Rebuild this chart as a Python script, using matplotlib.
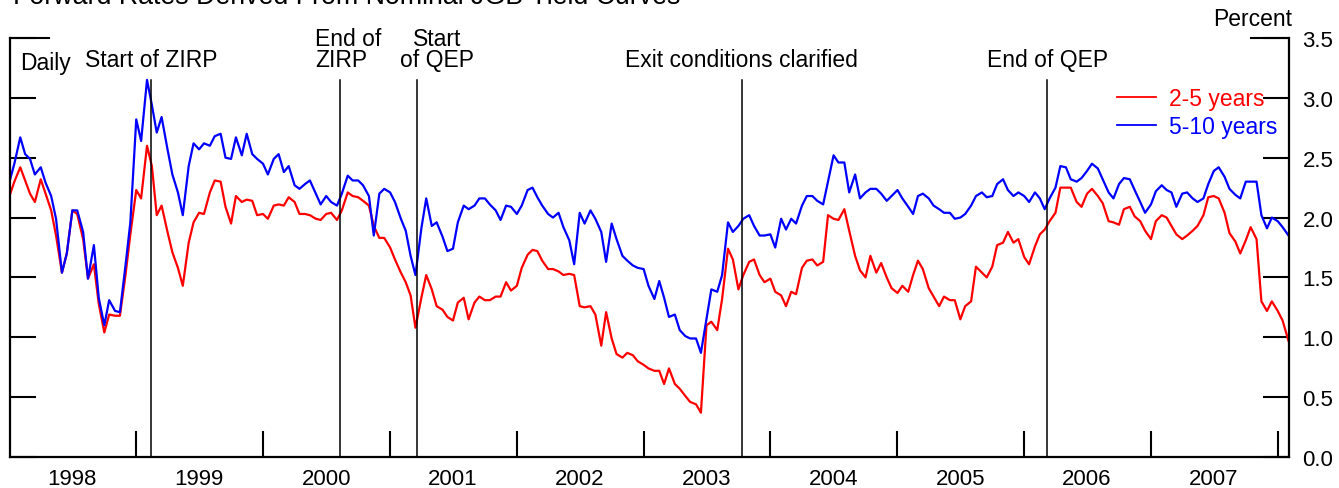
import matplotlib
matplotlib.use('Agg')
import matplotlib.pyplot as plt
import matplotlib.transforms as mtransforms
import pandas as pd
import numpy as np

plt.rcParams['font.family'] = ['Liberation Sans', 'DejaVu Sans']

# ---------------- data (semi-monthly readings, Jan 1998 - Feb 2008) ----------------
dates = pd.date_range('1998-01-01', periods=243, freq='SMS')

fwd_2_5 = [
    2.18, 2.30, 2.42, 2.31, 2.20, 2.13, 2.32, 2.20, 2.06, 1.85, 1.54, 1.70,
    2.06, 2.03, 1.82, 1.49, 1.61, 1.28, 1.04, 1.19, 1.18, 1.18, 1.52, 1.86,
    2.23, 2.16, 2.60, 2.43, 2.02, 2.10, 1.88, 1.71, 1.58, 1.43, 1.79, 1.96,
    2.04, 2.03, 2.21, 2.31, 2.30, 2.09, 1.95, 2.18, 2.13, 2.15, 2.14, 2.02,
    2.03, 1.99, 2.10, 2.11, 2.10, 2.17, 2.13, 2.03, 2.03, 2.02, 1.99, 1.98,
    2.03, 2.04, 1.98, 2.06, 2.21, 2.18, 2.17, 2.14, 2.10, 1.93, 1.83, 1.83,
    1.75, 1.65, 1.54, 1.46, 1.35, 1.08, 1.33, 1.52, 1.40, 1.26, 1.23, 1.17,
    1.14, 1.29, 1.33, 1.15, 1.29, 1.34, 1.31, 1.31, 1.34, 1.34, 1.46, 1.39,
    1.43, 1.58, 1.69, 1.73, 1.72, 1.64, 1.57, 1.57, 1.55, 1.52, 1.53, 1.52,
    1.26, 1.25, 1.26, 1.19, 0.93, 1.21, 0.99, 0.86, 0.83, 0.87, 0.85, 0.80,
    0.77, 0.74, 0.72, 0.72, 0.61, 0.74, 0.61, 0.57, 0.51, 0.46, 0.44, 0.37,
    1.10, 1.13, 1.06, 1.32, 1.74, 1.65, 1.40, 1.52, 1.63, 1.65, 1.52, 1.46,
    1.49, 1.38, 1.35, 1.26, 1.38, 1.36, 1.58, 1.64, 1.65, 1.60, 1.63, 2.02,
    1.99, 1.98, 2.07, 1.89, 1.68, 1.56, 1.50, 1.68, 1.54, 1.62, 1.50, 1.41,
    1.37, 1.43, 1.38, 1.52, 1.64, 1.57, 1.41, 1.34, 1.26, 1.34, 1.31, 1.31,
    1.15, 1.26, 1.30, 1.59, 1.54, 1.50, 1.59, 1.77, 1.79, 1.88, 1.79, 1.82,
    1.67, 1.61, 1.76, 1.86, 1.90, 1.97, 2.04, 2.25, 2.25, 2.25, 2.13, 2.09,
    2.20, 2.24, 2.18, 2.12, 1.97, 1.96, 1.94, 2.07, 2.09, 2.01, 1.97, 1.89,
    1.82, 1.97, 2.02, 2.00, 1.93, 1.86, 1.82, 1.85, 1.89, 1.93, 2.02, 2.17,
    2.18, 2.16, 2.04, 1.87, 1.80, 1.70, 1.81, 1.92, 1.82, 1.30, 1.22, 1.30,
    1.22, 1.14, 0.97,
]

fwd_5_10 = [
    2.30, 2.45, 2.67, 2.53, 2.49, 2.36, 2.42, 2.29, 2.18, 1.99, 1.54, 1.70,
    2.06, 2.06, 1.88, 1.49, 1.77, 1.33, 1.10, 1.31, 1.22, 1.21, 1.60, 1.96,
    2.82, 2.64, 3.15, 2.94, 2.71, 2.84, 2.57, 2.36, 2.21, 2.02, 2.43, 2.62,
    2.57, 2.62, 2.60, 2.68, 2.70, 2.50, 2.49, 2.67, 2.52, 2.70, 2.53, 2.49,
    2.45, 2.36, 2.49, 2.53, 2.38, 2.43, 2.27, 2.24, 2.28, 2.31, 2.20, 2.11,
    2.18, 2.13, 2.10, 2.20, 2.35, 2.31, 2.31, 2.27, 2.18, 1.85, 2.20, 2.24,
    2.21, 2.13, 1.99, 1.89, 1.68, 1.52, 1.91, 2.16, 1.93, 1.96, 1.84, 1.72,
    1.74, 1.96, 2.10, 2.07, 2.10, 2.16, 2.16, 2.11, 2.06, 1.98, 2.10, 2.09,
    2.03, 2.10, 2.23, 2.25, 2.17, 2.10, 2.03, 2.00, 2.04, 1.92, 1.81, 1.61,
    2.04, 1.95, 2.06, 1.99, 1.88, 1.63, 1.95, 1.82, 1.68, 1.64, 1.60, 1.58,
    1.57, 1.43, 1.32, 1.47, 1.33, 1.17, 1.19, 1.06, 1.01, 0.99, 0.99, 0.87,
    1.15, 1.40, 1.38, 1.52, 1.96, 1.88, 1.93, 1.99, 2.02, 1.93, 1.85, 1.85,
    1.86, 1.75, 1.99, 1.90, 1.99, 1.95, 2.10, 2.18, 2.18, 2.14, 2.11, 2.30,
    2.52, 2.46, 2.46, 2.21, 2.36, 2.16, 2.21, 2.24, 2.24, 2.20, 2.14, 2.18,
    2.23, 2.16, 2.09, 2.03, 2.18, 2.20, 2.16, 2.10, 2.07, 2.04, 2.04, 1.99,
    2.00, 2.03, 2.10, 2.18, 2.21, 2.17, 2.18, 2.28, 2.32, 2.23, 2.18, 2.21,
    2.18, 2.13, 2.21, 2.16, 2.07, 2.16, 2.25, 2.43, 2.42, 2.32, 2.30, 2.33,
    2.39, 2.45, 2.41, 2.32, 2.21, 2.16, 2.28, 2.33, 2.32, 2.23, 2.13, 2.04,
    2.11, 2.22, 2.27, 2.23, 2.21, 2.09, 2.20, 2.21, 2.16, 2.13, 2.16, 2.28,
    2.39, 2.42, 2.34, 2.24, 2.19, 2.16, 2.30, 2.30, 2.30, 2.02, 1.91, 2.00,
    1.97, 1.92, 1.85,
]

series_labels = ['2-5 years', '5-10 years']
event_dates = ['1999-02-12', '2000-08-11', '2001-03-19', '2003-10-10', '2006-03-09']
event_labels = ['Start of ZIRP', 'End of\nZIRP', 'Start\nof QEP',
                'Exit conditions clarified', 'End of QEP']
years = list(range(1998, 2008))
y_ticks = [0.0, 0.5, 1.0, 1.5, 2.0, 2.5, 3.0, 3.5]

# ---------------- figure ----------------
W, H = 1339, 489
fig = plt.figure(figsize=(W / 100, H / 100), dpi=100)
Lp, Rp, Bp, Tp = 9.5, 1288.5, 458, 39
ax = fig.add_axes([Lp / W, 1 - Bp / H, (Rp - Lp) / W, (Bp - Tp) / H])

ax.plot(dates, fwd_2_5, color='#ff0000', lw=1.6, label=series_labels[0])
ax.plot(dates, fwd_5_10, color='#0000ff', lw=1.6, label=series_labels[1])

ax.set_xlim(pd.Timestamp('1998-01-01'), pd.Timestamp('2008-02-01'))
ax.set_ylim(0, 3.5)

# spines
ax.spines['top'].set_visible(False)
for s in ['left', 'right', 'bottom']:
    ax.spines[s].set_linewidth(1.6)

# x ticks: year boundaries (marks), mid-year (labels)
ax.set_xticks([pd.Timestamp(f'{y}-01-01') for y in range(1999, 2009)])
ax.set_xticks([pd.Timestamp(f'{y}-07-01') for y in years], minor=True)
ax.set_xticklabels([str(y) for y in years], minor=True)
ax.tick_params(axis='x', which='major', direction='in', length=19, width=1.5,
               labelbottom=False)
ax.tick_params(axis='x', which='minor', length=0, pad=8, labelsize=16)

# y ticks on both sides, labels on the right
ax.set_yticks(y_ticks)
ax.set_yticklabels([f'{v:.1f}' for v in y_ticks])
ax.tick_params(axis='y', which='major', direction='in', length=19, width=1.5,
               left=True, right=True, labelleft=False, labelright=True,
               pad=10, labelsize=16)

# longer corner ticks at the top
ax.axhline(3.5, xmin=0, xmax=39 / (Rp - Lp), color='k', lw=1.5, clip_on=False)
ax.axhline(3.5, xmin=1 - 38 / (Rp - Lp), xmax=1, color='k', lw=1.5, clip_on=False)

# event lines and labels
trans = mtransforms.blended_transform_factory(ax.transData, ax.transAxes)
offsets = [0, 0, 20, 0, 0]
for d, lab, off in zip(event_dates, event_labels, offsets):
    ts = pd.Timestamp(d)
    ax.axvline(ts, ymin=0, ymax=(Bp - 81) / (Bp - Tp), color='k', lw=1.1)
    if lab.startswith('End of\n'):
        t = mtransforms.offset_copy(trans, fig=fig, x=-25, y=0, units='dots')
        ax.text(ts, (Bp - 72) / (Bp - Tp), lab, ha='left', va='bottom',
                fontsize=16.5, transform=t, linespacing=0.9, multialignment='left')
    else:
        t = mtransforms.offset_copy(trans, fig=fig, x=off, y=0, units='dots')
        ax.text(ts, (Bp - 72) / (Bp - Tp), lab, ha='center', va='bottom',
                fontsize=16.5, transform=t, linespacing=0.9, multialignment='center')

# misc text
fig.text(20 / W, 1 - 70 / H, 'Daily', fontsize=16.5, ha='left', va='baseline')
fig.text(1292 / W, 1 - 20 / H, 'Percent', fontsize=16.5, ha='right', va='center')
fig.text(13 / W, 1 - 4 / H, 'Forward Rates Derived From Nominal JGB Yield Curves',
         fontsize=19.3, ha='left', va='baseline')

leg = ax.legend(loc='upper right', bbox_to_anchor=(1277 / W, 1 - 88 / H),
                bbox_transform=fig.transFigure, frameon=False, fontsize=16.5,
                handlelength=1.7, handletextpad=0.55, labelspacing=0.22,
                borderpad=0, borderaxespad=0, labelcolor='linecolor')
for line in leg.get_lines():
    line.set_linewidth(1.3)

fig.savefig('out.png', dpi=100)
